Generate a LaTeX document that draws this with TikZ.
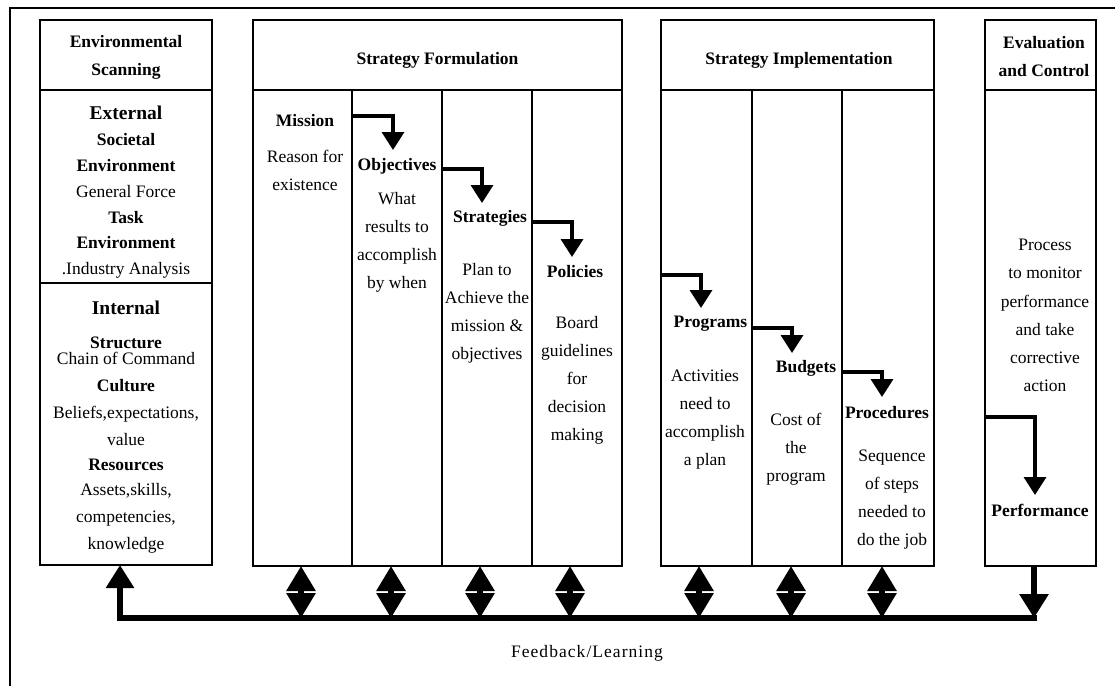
\documentclass[tikz,border=0pt]{standalone}
\usepackage{fontspec}
\setmainfont{Liberation Serif}
\usetikzlibrary{arrows.meta,calc}
\begin{document}
\begin{tikzpicture}[x=1pt,y=-1pt,
  box/.style={draw, line width=1.3pt, inner sep=0pt, outer sep=0pt},
  txt/.style={inner sep=0pt, align=center, font=\fontsize{17.5}{28}\selectfont},
  hd/.style={inner sep=0pt, align=center, font=\fontsize{17.5}{28}\selectfont\bfseries},
  elbow/.style={line width=3.5pt, -{Triangle[length=18pt,width=22pt]}},
  bighead/.style={line width=6pt, -{Triangle[length=24pt,width=28pt]}},
  dhead/.style={line width=6pt, -{Triangle[length=25pt,width=28pt]}},
  frame/.style={line width=2pt}
]
\useasboundingbox (0,0) rectangle (1115,686);
% outer frame
\draw[frame] (1115,8) -- (10,8) -- (10,686);

% ---- boxes ----
\node[box, minimum width=172pt, minimum height=70pt]  (envh) at (126,55) {};
\node[box, minimum width=172pt, minimum height=193pt] (ext)  at (126,186.5) {};
\node[box, minimum width=172pt, minimum height=282pt] (int)  at (126,424) {};

\node[box, minimum width=369pt, minimum height=70pt]  (sfh) at (437.5,55) {};
\node[box, minimum width=99pt, minimum height=476pt]  (mis) at (302.5,328) {};
\node[box, minimum width=90pt, minimum height=476pt]  (obj) at (397,328) {};
\node[box, minimum width=90pt, minimum height=476pt]  (str) at (487,328) {};
\node[box, minimum width=90pt, minimum height=476pt]  (pol) at (577,328) {};

\node[box, minimum width=273pt, minimum height=70pt]  (sih) at (797.5,55) {};
\node[box, minimum width=91pt, minimum height=476pt]  (prg) at (706.5,328) {};
\node[box, minimum width=90pt, minimum height=476pt]  (bud) at (797,328) {};
\node[box, minimum width=92pt, minimum height=476pt]  (prc) at (888,328) {};

\node[box, minimum width=111pt, minimum height=70pt]  (ech) at (1040.5,55) {};
\node[box, minimum width=111pt, minimum height=476pt] (ecb) at (1040.5,328) {};

% ---- texts ----
\node[hd] (tenvh) at (126,57) {Environmental\\Scanning};
\node[hd, font=\fontsize{17.5}{25.8}\selectfont\bfseries] (text) at (126,192.5)
  {{\fontsize{19.5}{25.8}\selectfont External}\\Societal\\Environment\\\mdseries General Force\\Task\\Environment\\\mdseries .Industry Analysis};
\node[hd, font=\fontsize{17.5}{27}\selectfont\bfseries] (tint) at (126,427)
  {{\fontsize{19.5}{27}\selectfont Internal}\\[7pt]Structure\\[-11pt]\mdseries Chain of Command\\Culture\\\mdseries Beliefs,expectations,\\\mdseries value\\[-2pt]Resources\\[-2pt]\mdseries Assets,skills,\\\mdseries competencies,\\\mdseries knowledge};

\node[hd] (tsfh) at (437.5,60) {Strategy Formulation};
\node[hd] (tmis) at (305,153) {Mission\\[8pt]\mdseries Reason for\\\mdseries existence};
\node[hd] (tobj) at (397,225) {Objectives\\[6pt]\mdseries What\\\mdseries results to\\\mdseries accomplish\\\mdseries by when};
\node[hd] (hstr) at (490,218) {Strategies};
\node[txt] (tstr) at (487,313.5) {Plan to\\Achieve the\\mission \&\\objectives};
\node[hd] (hpol) at (575,272) {Policies};
\node[txt] (tpol) at (577,380.5) {Board\\guidelines\\for\\decision\\making};

\node[hd] (tsih) at (799,60) {Strategy Implementation};
\node[hd] (hprg) at (710.5,324) {Programs};
\node[txt] (tprg) at (705,419.5) {Activities\\need to\\accomplish\\a plan};
\node[hd] (hbud) at (806,368) {Budgets};
\node[txt] (tbud) at (796,449.5) {Cost of\\the\\program};
\node[hd] (hprc) at (887,413) {Procedures};
\node[txt] (tprc) at (892,499.5) {Sequence\\of steps\\needed to\\do the job};

\node[hd] (tech) at (1044,57) {Evaluation\\and Control};
\node[txt, font=\fontsize{17.5}{28.2}\selectfont] (tecb) at (1045,315.5) {Process\\to monitor\\performance\\and take\\corrective\\action};
\node[hd] (hprf) at (1040,510) {Performance};

\node[txt, font=\fontsize{17.5}{28}\selectfont\addfontfeature{LetterSpace=6}] (tfb) at (587,653) {Feedback/Learning};

% ---- elbow arrows ----
\coordinate (a1) at ($(mis.north east)+(0,26)$);  \coordinate (b1) at (393,150);
\coordinate (a2) at ($(obj.north east)+(0,79)$);  \coordinate (b2) at (482,203);
\coordinate (a3) at ($(str.north east)+(0,132)$); \coordinate (b3) at (572,257);
\coordinate (a4) at ($(prg.north west)+(0,185)$); \coordinate (b4) at (701,308);
\coordinate (a5) at ($(prg.north east)+(0,238)$); \coordinate (b5) at (792,353);
\coordinate (a6) at ($(bud.north east)+(0,282)$); \coordinate (b6) at (882,397);
\coordinate (a7) at ($(ecb.north west)+(0,327)$); \coordinate (b7) at (1035,495);
\foreach \i in {1,...,7} { \draw[elbow] (a\i) -| (b\i); }

% ---- feedback loop ----
\coordinate (fbL) at (120,618);
\coordinate (fbR) at (1037,618);
\draw[bighead, -{Triangle[length=23pt,width=27pt]}] (fbR) -- (fbL) -- (fbL |- int.south);
\coordinate (pfx) at (1034,0);
\draw[bighead] (ecb.south -| pfx) -- (pfx |- fbL);

\foreach \n/\xx in {mis/301, obj/391, str/480, pol/570, prg/699, bud/791, prc/882} {
  \coordinate (m\n) at (\xx,592);
  \draw[dhead] (m\n) -- (m\n |- \n.south);
  \draw[dhead] (m\n) -- (m\n |- fbL);
}
\end{tikzpicture}
\end{document}
